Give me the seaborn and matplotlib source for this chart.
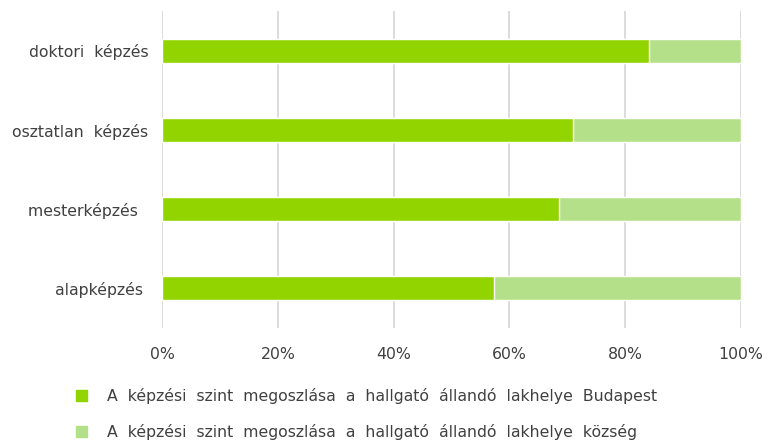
import pandas as pd
import matplotlib.pyplot as plt
import seaborn as sns
from matplotlib.patches import Patch

categories = ["doktori  képzés", "osztatlan  képzés", "mesterképzés  ", "alapképzés "]
budapest = [84.1, 71.0, 68.6, 57.3]
kozseg = [100 - v for v in budapest]
series_names = ["A  képzési  szint  megoszlása  a  hallgató  állandó  lakhelye  Budapest",
                "A  képzési  szint  megoszlása  a  hallgató  állandó  lakhelye  község"]
xticks = [0, 20, 40, 60, 80, 100]

c_dark = "#92D400"
c_light = "#B5E08A"
txt = "#404040"
fs = 11.3

df = pd.DataFrame({"cat": categories, "bp": budapest, "kz": kozseg})
df["total"] = df["bp"] + df["kz"]

sns.set_style("white")
plt.rcParams["font.family"] = ["DejaVu Sans"]

fig = plt.figure(figsize=(7.69, 4.42), dpi=100)
ax = fig.add_axes([0.2107, 0.259, 0.7529, 0.715])

sns.barplot(data=df, x="total", y="cat", orient="h", color=c_light, width=0.3,
            saturation=1, ax=ax, zorder=3)
sns.barplot(data=df, x="bp", y="cat", orient="h", color=c_dark, width=0.3,
            saturation=1, ax=ax, zorder=4)

ax.set_xlim(0, 100)
ax.set_ylim(3.5, -0.5)
ax.set_xticks(xticks)
ax.set_xticklabels([f"{t}%" for t in xticks], fontsize=fs, color=txt)
ax.tick_params(axis="y", labelsize=fs, labelcolor=txt, length=0, pad=10)
ax.tick_params(axis="x", length=0, pad=14)
ax.set_xlabel("")
ax.set_ylabel("")
for s in ax.spines.values():
    s.set_visible(False)
ax.grid(axis="x", color="#D9D9D9", linewidth=1.3, zorder=0)
ax.set_axisbelow(True)

handles = [Patch(color=c_dark), Patch(color=c_light)]
fig.legend(handles, series_names, loc="lower left", bbox_to_anchor=(0.0805, -0.027),
           frameon=False, fontsize=fs, labelcolor=txt, handlelength=0.7,
           handleheight=0.7, handletextpad=1.3, labelspacing=1.25)

fig.savefig("out.png", dpi=100)
